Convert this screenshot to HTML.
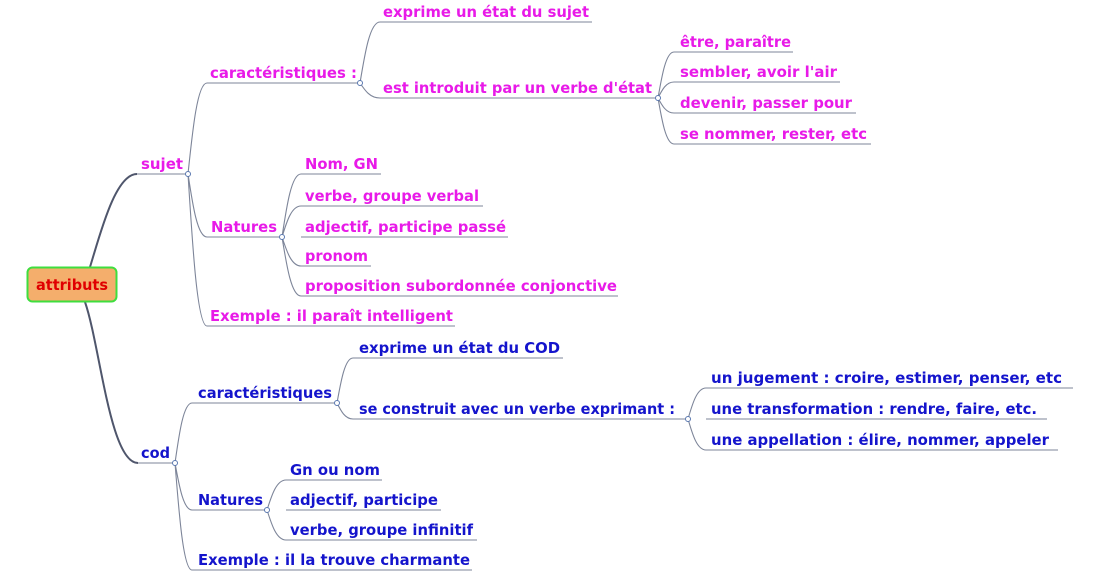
<!DOCTYPE html>
<html><head><meta charset="utf-8"><style>
html,body{margin:0;padding:0;background:#fff;}
svg{display:block}
text{font-family:"DejaVu Sans","Liberation Sans",sans-serif;font-weight:bold;font-size:15.5px}
.m{fill:#e81ae8}.b{fill:#1414cc}
</style></head><body>
<svg width="1102" height="580" viewBox="0 0 1102 580" xmlns="http://www.w3.org/2000/svg">
<g fill="none" stroke="#7d8599" stroke-width="1.1">
<path d="M137 174H188M207 83H360M207 237H282M207 326H455M380 22H592M380 98H658M674 52H793M674 82H840M674 113H856M674 144H871M301 174H381M301 206H483M301 237H508M301 266H371M301 296H618"/>
<path d="M138 463H175M192 403H337M192 510H267M192 570H472M353 358H563M353 419H688M706 388H1073M706 419H1047M706 450H1058M286 480H382M286 510H441M286 540H477"/>
<path d="M188 174C192.75 128.5 197.5 83 207 83M188 174C192.75 205.5 197.5 237 207 237M188 174C192.75 250 197.5 326 207 326"/>
<path d="M360 83C365 52.5 370 22 380 22M360 83C365 90.5 370 98 380 98"/>
<path d="M658 98C662 75 666 52 674 52M658 98C662 90 666 82 674 82M658 98C662 105.5 666 113 674 113M658 98C662 121 666 144 674 144"/>
<path d="M282 237C286.75 205.5 291.5 174 301 174M282 237C286.75 221.5 291.5 206 301 206M282 237C286.75 251.5 291.5 266 301 266M282 237C286.75 266.5 291.5 296 301 296"/>
<path d="M175 463C179.25 433 183.5 403 192 403M175 463C179.25 486.5 183.5 510 192 510M175 463C179.25 516.5 183.5 570 192 570"/>
<path d="M337 403C341 380.5 345 358 353 358M337 403C341 411 345 419 353 419"/>
<path d="M688 419C692.5 403.5 697 388 706 388M688 419C692.5 434.5 697 450 706 450"/>
<path d="M267 510C271.75 495 276.5 480 286 480M267 510C271.75 525 276.5 540 286 540"/>
</g>
<g fill="none" stroke="#4f566c" stroke-width="2">
<path d="M90 267C100 235 115 174 137 174"/>
<path d="M85 302C100 345 110 463 138 463"/>
</g>
<g fill="#fff" stroke="#5a78b0" stroke-width="1">
<circle cx="188" cy="174" r="2.5"/><circle cx="360" cy="83" r="2.5"/><circle cx="658" cy="98" r="2.5"/><circle cx="282" cy="237" r="2.5"/>
<circle cx="175" cy="463" r="2.5"/><circle cx="337" cy="403" r="2.5"/><circle cx="688" cy="419" r="2.5"/><circle cx="267" cy="510" r="2.5"/>
</g>
<rect x="27.5" y="267.5" width="89" height="34" rx="5" fill="#f4ae6c" stroke="#3ede3e" stroke-width="2"/>
<text x="36" y="290" fill="#e00000" textLength="72" lengthAdjust="spacingAndGlyphs">attributs</text>
<g class="m">
<text x="141" y="169" textLength="42" lengthAdjust="spacingAndGlyphs">sujet</text>
<text x="210" y="78" textLength="147" lengthAdjust="spacingAndGlyphs">caractéristiques :</text>
<text x="211" y="232" textLength="66" lengthAdjust="spacingAndGlyphs">Natures</text>
<text x="210" y="321" textLength="243" lengthAdjust="spacingAndGlyphs">Exemple : il paraît intelligent</text>
<text x="383" y="17" textLength="206" lengthAdjust="spacingAndGlyphs">exprime un état du sujet</text>
<text x="383" y="93" textLength="269" lengthAdjust="spacingAndGlyphs">est introduit par un verbe d'état</text>
<text x="680" y="47" textLength="111" lengthAdjust="spacingAndGlyphs">être, paraître</text>
<text x="680" y="77" textLength="157" lengthAdjust="spacingAndGlyphs">sembler, avoir l'air</text>
<text x="680" y="108" textLength="172" lengthAdjust="spacingAndGlyphs">devenir, passer pour</text>
<text x="680" y="139" textLength="187" lengthAdjust="spacingAndGlyphs">se nommer, rester, etc</text>
<text x="305" y="169" textLength="73" lengthAdjust="spacingAndGlyphs">Nom, GN</text>
<text x="305" y="201" textLength="174" lengthAdjust="spacingAndGlyphs">verbe, groupe verbal</text>
<text x="305" y="232" textLength="201" lengthAdjust="spacingAndGlyphs">adjectif, participe passé</text>
<text x="305" y="261" textLength="63" lengthAdjust="spacingAndGlyphs">pronom</text>
<text x="305" y="291" textLength="312" lengthAdjust="spacingAndGlyphs">proposition subordonnée conjonctive</text>
</g>
<g class="b">
<text x="141" y="458" textLength="29" lengthAdjust="spacingAndGlyphs">cod</text>
<text x="198" y="398" textLength="134" lengthAdjust="spacingAndGlyphs">caractéristiques</text>
<text x="198" y="505" textLength="65" lengthAdjust="spacingAndGlyphs">Natures</text>
<text x="198" y="565" textLength="272" lengthAdjust="spacingAndGlyphs">Exemple : il la trouve charmante</text>
<text x="359" y="353" textLength="201" lengthAdjust="spacingAndGlyphs">exprime un état du COD</text>
<text x="359" y="414" textLength="316" lengthAdjust="spacingAndGlyphs">se construit avec un verbe exprimant :</text>
<text x="711" y="383" textLength="351" lengthAdjust="spacingAndGlyphs">un jugement : croire, estimer, penser, etc</text>
<text x="711" y="414" textLength="326" lengthAdjust="spacingAndGlyphs">une transformation : rendre, faire, etc.</text>
<text x="711" y="445" textLength="338" lengthAdjust="spacingAndGlyphs">une appellation : élire, nommer, appeler</text>
<text x="290" y="475" textLength="90" lengthAdjust="spacingAndGlyphs">Gn ou nom</text>
<text x="290" y="505" textLength="148" lengthAdjust="spacingAndGlyphs">adjectif, participe</text>
<text x="290" y="535" textLength="183" lengthAdjust="spacingAndGlyphs">verbe, groupe infinitif</text>
</g>
</svg>
</body></html>
